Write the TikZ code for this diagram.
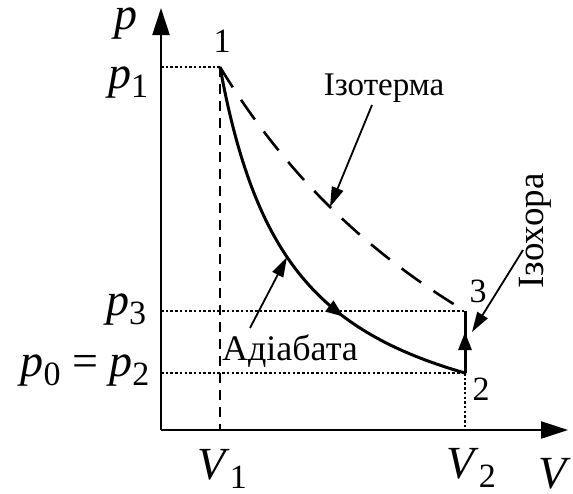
\documentclass[tikz,border=0pt]{standalone}
\usepackage{fontspec}
\setmainfont{Liberation Serif}
\usetikzlibrary{arrows.meta,decorations.markings}
\newcommand\lsub[1]{\raisebox{-0.2em}{\fontsize{34}{34}\selectfont #1}}
\newcommand\mv[1]{\textit{#1}}
\begin{document}
\begin{tikzpicture}[x=1pt,y=-1pt,
  axis/.style={line width=2.2pt,-{Triangle[length=27pt,width=17pt]}},
  guide/.style={line width=1.6pt,dash pattern=on 2.5pt off 2.2pt},
  vdash/.style={line width=1.6pt,dash pattern=on 10pt off 7pt},
  curve/.style={line width=3pt},
  isoth/.style={line width=2.6pt,dash pattern=on 24pt off 15pt},
  pointer/.style={line width=1.8pt,-{Triangle[length=20pt,width=12pt]}},
  midarrow/.style={postaction={decorate},decoration={markings,mark=at position #1 with {\arrow{Triangle[length=18pt,width=13pt]}}}},
  lbl/.style={font=\fontsize{34}{34}\selectfont,anchor=base,inner sep=0pt},
  mlbl/.style={font=\fontsize{46}{46}\selectfont,anchor=base,inner sep=0pt}]
\useasboundingbox (0,0) rectangle (573,493);
\coordinate (O) at (161,430);
\coordinate (Ytop) at (161,8);
\coordinate (Xend) at (568,430);
\coordinate (P1) at (220,67);
\coordinate (P2) at (465,373);
\coordinate (P3) at (465,311);
\coordinate (A1) at (161,67);
\coordinate (A3) at (161,311);
\coordinate (A2) at (161,373);
\coordinate (B1) at (220,430);
\coordinate (B2) at (465,430);
% guides
\draw[guide] (A1) -- (P1);
\draw[guide] (A3) -- (P3);
\draw[guide] (A2) -- (P2);
\draw[guide] (P2) -- (B2);
\draw[vdash] (P1) -- (B1);
% axes
\draw[axis] (O) -- (Ytop);
\draw[axis] (O) -- (Xend);
% curves
\draw[isoth] (P1) -- plot[domain=220:465,samples=120] (\x,{685.3-2323.54/((\x+155.8)/100)}) -- (P3);
\draw[curve,midarrow=0.68] (P1) -- plot[domain=220:465,samples=160] (\x,{464.3-290.42/((\x-146.9)/100)}) -- (P2);
\draw[curve,midarrow=0.66] (P2) -- (P3);
% labels
\node[mlbl] (lp) at (126,29) {\smash{\mv{p}}};
\node[mlbl] (lp1) at (128,88) {\mv{p}\lsub{1}};
\node[mlbl] (lp3) at (126,315) {\mv{p}\lsub{3}};
\node[mlbl] (lp02) at (85,376) {\mv{p}\lsub{0} = \mv{p}\lsub{2}};
\node[mlbl] (lv1) at (222,479) {\smash{\mv{V}\lsub{1}}};
\node[mlbl] (lv2) at (471,478) {\smash{\mv{V}\lsub{2}}};
\node[mlbl] (lv) at (555,488) {\smash{\mv{V}}};
\node[lbl] (n1) at (222,52) {1};
\node[lbl] (n3) at (478,302) {3};
\node[lbl] (n2) at (481,400) {2};
\node[lbl,font=\fontsize{33}{33}\selectfont] (liso) at (384,95) {Ізотерма};
\node[lbl,font=\fontsize{36}{36}\selectfont] (lad) at (290,360) {Адіабата};
\node[lbl,font=\fontsize{37}{37}\selectfont,rotate=90,anchor=center] (lich) at (535,231) {Ізохора};
% pointers
\coordinate (s1) at (372,105);
\coordinate (t1) at (330,207);
\coordinate (s2) at (250,328);
\coordinate (t2) at (287,257);
\coordinate (s3) at (523,250);
\coordinate (t3) at (472,332);
\draw[pointer] (s1) -- (t1);
\draw[pointer] (s2) -- (t2);
\draw[pointer] (s3) -- (t3);
\end{tikzpicture}
\end{document}
